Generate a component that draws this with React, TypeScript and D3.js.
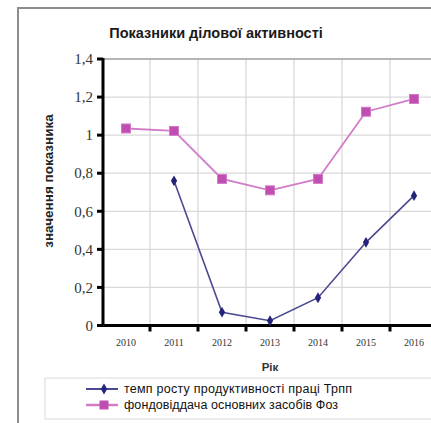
import React from "react";
import * as d3 from "d3";

const years = ["2010", "2011", "2012", "2013", "2014", "2015", "2016"];
const laborGrowth: (number | null)[] = [null, 0.76, 0.07, 0.025, 0.146, 0.437, 0.682];
const assetReturn: number[] = [1.035, 1.022, 0.77, 0.71, 0.77, 1.123, 1.19];
const yTicks = [0, 0.2, 0.4, 0.6, 0.8, 1, 1.2, 1.4];
const seriesNames = [
  "темп росту продуктивності праці Трпп",
  "фондовіддача основних засобів  Фоз",
];

const W = 431;
const H = 423;
const plot = { left: 103, top: 59, right: 438, bottom: 325.5 };

const BLUE_LINE = "#4b4a91";
const BLUE_MARK = "#23237a";
const PINK_LINE = "#d27cc7";
const PINK_MARK = "#c04eb2";

const fmt = (v: number) => (v === 0 || v === 1 ? String(v) : d3.format(".1f")(v).replace(".", ","));

export default function App() {
  const x = d3.scaleBand<string>().domain(years).range([plot.left - 1, plot.right]).padding(0);
  const y = d3.scaleLinear().domain([0, 1.4]).range([plot.bottom, plot.top]);
  const cx = (d: string) => (x(d) ?? 0) + x.bandwidth() / 2;

  const line = d3
    .line<{ yr: string; v: number | null }>()
    .defined((d) => d.v !== null)
    .x((d) => cx(d.yr))
    .y((d) => y(d.v as number));

  const blueData = years.map((yr, i) => ({ yr, v: laborGrowth[i] }));
  const pinkData = years.map((yr, i) => ({ yr, v: assetReturn[i] as number | null }));

  const bounds = years.map((yr) => x(yr) ?? 0).concat([(x(years[years.length - 1]) ?? 0) + x.bandwidth()]);

  const diamond = d3.symbol(d3.symbolDiamond, 34)();
  const serif = "'Liberation Serif', 'DejaVu Serif', serif";
  const sans = "'Liberation Sans', Arial, sans-serif";

  return (
    <svg
      width={W}
      height={H}
      style={{ position: "absolute", left: 0, top: 0, background: "#fff" }}
    >
      {/* outer chart frame */}
      <rect x={18} y={8} width={W} height={H} fill="#fff" stroke="#8c8c8c" strokeWidth={2} />

      <text x={216} y={38} textAnchor="middle" fontFamily={sans} fontWeight="bold" fontSize={14.5} fill="#1a1a1a">
        Показники ділової активності
      </text>

      {/* gridlines */}
      <g stroke="#d9d9d9" strokeWidth={1.3}>
        {yTicks.map((t) => (
          <line key={"h" + t} x1={plot.left} x2={plot.right} y1={y(t)} y2={y(t)} />
        ))}
        {bounds.slice(1).map((b, i) => (
          <line key={"v" + i} x1={b} x2={b} y1={plot.top} y2={plot.bottom} />
        ))}
      </g>
      <line x1={plot.left} x2={plot.right} y1={y(1.4)} y2={y(1.4)} stroke="#a6a6a6" strokeWidth={1.6} />

      {/* series lines */}
      <path d={line(pinkData) ?? ""} fill="none" stroke={PINK_LINE} strokeWidth={1.8} />
      <path d={line(blueData) ?? ""} fill="none" stroke={BLUE_LINE} strokeWidth={1.6} />

      {/* axes */}
      <line x1={plot.left} x2={plot.left} y1={y(1.4) - 1} y2={plot.bottom + 1.5} stroke="#000" strokeWidth={3} />
      <line x1={plot.left - 1.5} x2={plot.right} y1={plot.bottom} y2={plot.bottom} stroke="#000" strokeWidth={3} />
      {yTicks.map((t) => (
        <g key={"yt" + t}>
          <line x1={plot.left - 6} x2={plot.left} y1={y(t)} y2={y(t)} stroke="#000" strokeWidth={3} />
          <text
            x={plot.left - 10}
            y={y(t)}
            dy="0.35em"
            textAnchor="end"
            fontFamily={serif}
            fontSize={15}
            fill="#333"
          >
            {fmt(t)}
          </text>
        </g>
      ))}
      {bounds.slice(1).map((b, i) => (
        <line key={"xt" + i} x1={b} x2={b} y1={plot.bottom} y2={plot.bottom + 6} stroke="#000" strokeWidth={3} />
      ))}
      {years.map((yr) => (
        <text key={"xl" + yr} x={cx(yr)} y={346} textAnchor="middle" fontFamily={serif} fontSize={10} fill="#333">
          {yr}
        </text>
      ))}

      {/* markers */}
      {pinkData.map((d) => (
        <rect
          key={"p" + d.yr}
          x={cx(d.yr) - 4.5}
          y={y(d.v as number) - 4.5}
          width={9}
          height={9}
          fill={PINK_MARK}
          stroke={PINK_LINE}
          strokeWidth={1}
        />
      ))}
      {blueData
        .filter((d) => d.v !== null)
        .map((d) => (
          <path key={"b" + d.yr} d={diamond ?? ""} transform={`translate(${cx(d.yr)},${y(d.v as number)})`} fill={BLUE_MARK} />
        ))}

      {/* axis titles */}
      <text x={270} y={371} textAnchor="middle" fontFamily={sans} fontWeight="bold" fontSize={11.5} fill="#333">
        Рік
      </text>
      <text
        transform={`translate(53,${181}) rotate(-90)`}
        textAnchor="middle"
        fontFamily={sans}
        fontWeight="bold"
        fontSize={13.5}
        fill="#222"
      >
        значення показника
      </text>

      {/* legend */}
      <rect x={45} y={378} width={400} height={41} fill="#fff" stroke="#d9d9d9" strokeWidth={1} />
      <line x1={86} x2={118} y1={389} y2={389} stroke={BLUE_LINE} strokeWidth={2} />
      <path d={diamond ?? ""} transform="translate(104,389)" fill={BLUE_MARK} />
      <text x={124} y={389} dy="0.35em" fontFamily={sans} fontSize={12.5} fill="#111" textLength={228} lengthAdjust="spacing">
        {seriesNames[0]}
      </text>
      <line x1={86} x2={118} y1={405} y2={405} stroke={PINK_LINE} strokeWidth={2.5} />
      <rect x={99.5} y={400.5} width={9} height={9} fill={PINK_MARK} />
      <text x={124} y={405} dy="0.35em" fontFamily={sans} fontSize={12.5} fill="#111" textLength={214} lengthAdjust="spacing">
        {seriesNames[1]}
      </text>
    </svg>
  );
}
